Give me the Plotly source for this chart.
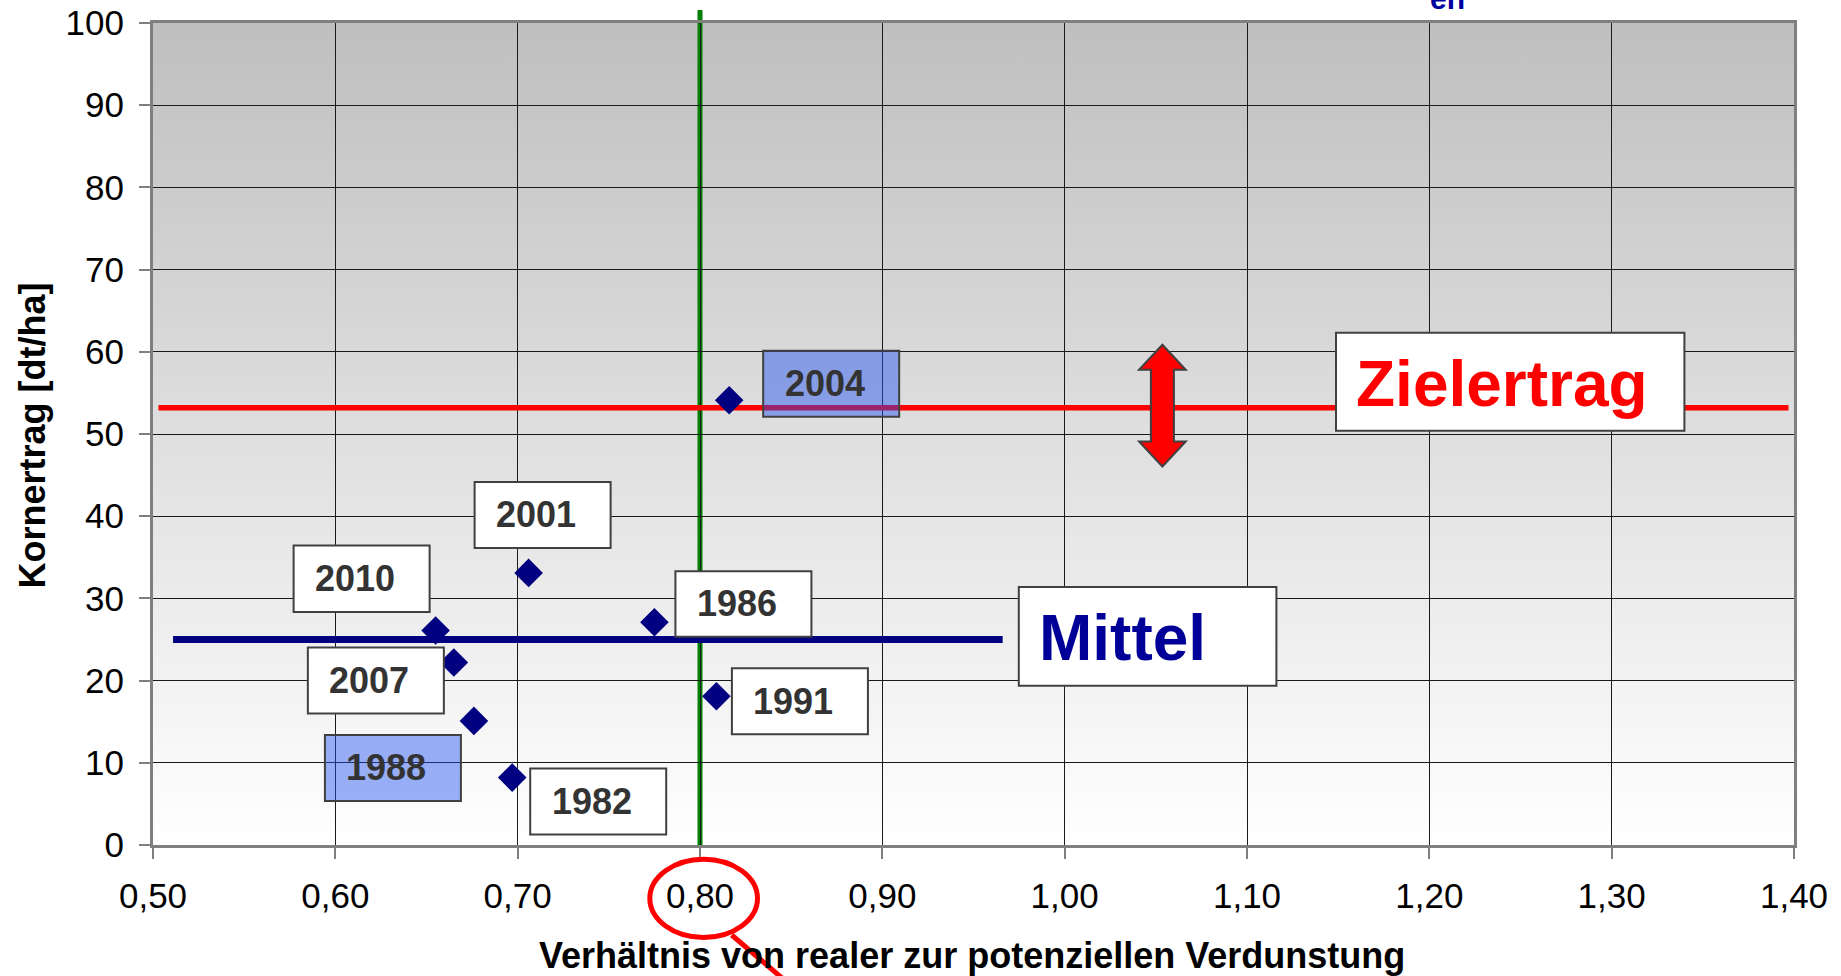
import base64
import plotly.graph_objects as go

# ---------------- data ----------------
years = ["1982", "1986", "1988", "1991", "2001", "2004", "2007", "2010"]
ratio = [0.697, 0.775, 0.676, 0.809, 0.706, 0.816, 0.665, 0.655]
yield_dt = [8.2, 27.1, 15.1, 18.1, 33.1, 54.1, 22.2, 26.1]
highlighted = ["1988", "2004"]

mittel_x = [0.511, 0.966]
mittel_y = [25, 25]
ziel_x = [0.503, 1.397]
ziel_y = [53.2, 53.2]
ref_ratio = 0.80

x_ticks = [0.50, 0.60, 0.70, 0.80, 0.90, 1.00, 1.10, 1.20, 1.30, 1.40]
y_ticks = [0, 10, 20, 30, 40, 50, 60, 70, 80, 90, 100]

x_title = "Verhältnis von realer zur potenziellen Verdunstung"
y_title = "Kornertrag [dt/ha]"

# ---------------- layout geometry / styles ----------------
W, H = 1841, 976
L, R, T, B = 153, 47, 23, 131
FONT = "Liberation Sans, Arial, sans-serif"

# label box offsets in pixels relative to each point (x0, x1, y0, y1), y up
label_box = {
    "2001": (-54, 82, 25, 91),
    "2010": (-142, -6, 18.5, 85),
    "2007": (-146, -10, -51, 15),
    "1988": (-149, -13, -80, -14),
    "1982": (18, 154, -57, 9),
    "1986": (21, 157, -14.5, 51),
    "1991": (15.5, 151.5, -38, 28),
    "2004": (34, 170, -16.5, 49.5),
}


def pxx(px):
    return (px - L) / (W - L - R)


def pxy(py):
    return (H - B - py) / (H - T - B)


fig = go.Figure()

fig.add_trace(go.Scatter(x=mittel_x, y=mittel_y, mode="lines",
                         line=dict(color="#000080", width=7),
                         hoverinfo="skip", showlegend=False))
fig.add_trace(go.Scatter(x=ziel_x, y=ziel_y, mode="lines",
                         line=dict(color="#FF0000", width=5.5),
                         hoverinfo="skip", showlegend=False))
fig.add_trace(go.Scatter(x=ratio, y=yield_dt, mode="markers", text=years,
                         marker=dict(symbol="diamond", size=22, color="#000080",
                                     line=dict(width=0)),
                         cliponaxis=False, showlegend=False))

shapes = []
annotations = []

# green reference line (extends a little above the plot)
shapes.append(dict(type="line", xref="x", yref="paper", x0=ref_ratio, x1=ref_ratio,
                   y0=0, y1=pxy(10), line=dict(color="#008000", width=5), layer="between"))

# label boxes
for yr, xv, yv in zip(years, ratio, yield_dt):
    x0, x1, y0, y1 = label_box[yr]
    fill = "rgba(30,80,240,0.45)" if yr in highlighted else "#FFFFFF"
    shapes.append(dict(type="rect", xref="x", yref="y", xsizemode="pixel", ysizemode="pixel",
                       xanchor=xv, yanchor=yv, x0=x0, x1=x1, y0=y0, y1=y1,
                       fillcolor=fill, line=dict(color="#404040", width=2), layer="above"))
    annotations.append(dict(x=xv, y=yv, xref="x", yref="y", text="<b>%s</b>" % yr,
                            showarrow=False, xanchor="left", yanchor="middle",
                            xshift=x0 + 19.5, yshift=(y0 + y1) / 2,
                            font=dict(family=FONT, size=36, color="#333333")))

# double-headed arrow
arrow_path = ("M 0,60.85 L 23.35,35.85 L 11.5,35.85 L 11.5,-35.85 L 23.35,-35.85 "
              "L 0,-60.85 L -23.35,-35.85 L -11.5,-35.85 L -11.5,35.85 L -23.35,35.85 Z")
shapes.append(dict(type="path", xref="x", yref="y", xsizemode="pixel", ysizemode="pixel",
                   xanchor=1.0536, yanchor=53.46, path=arrow_path,
                   fillcolor="#FF0000", line=dict(color="#404040", width=2), layer="above"))

# Zielertrag box
shapes.append(dict(type="rect", xref="paper", yref="paper",
                   x0=pxx(1336), x1=pxx(1684.4), y0=pxy(430.7), y1=pxy(332.7),
                   fillcolor="#FFFFFF", line=dict(color="#404040", width=2), layer="above"))
annotations.append(dict(x=pxx(1353.5), y=pxy(383.8), xref="paper", yref="paper",
                        text="<b>Zielertrag</b>", showarrow=False, xanchor="left", yanchor="middle",
                        font=dict(family=FONT, size=64, color="#FF0000")))

# Mittel box
shapes.append(dict(type="rect", xref="paper", yref="paper",
                   x0=pxx(1018.8), x1=pxx(1276.4), y0=pxy(685.8), y1=pxy(586.9),
                   fillcolor="#FFFFFF", line=dict(color="#404040", width=2), layer="above"))
annotations.append(dict(x=pxx(1036.5), y=pxy(638.2), xref="paper", yref="paper",
                        text="<b>Mittel</b>", showarrow=False, xanchor="left", yanchor="middle",
                        font=dict(family=FONT, size=64, color="#000099")))

# red circle around 0,80 and its pointer line
shapes.append(dict(type="circle", xref="paper", yref="paper",
                   x0=pxx(649.8), x1=pxx(757.5), y0=pxy(937.5), y1=pxy(859.2),
                   line=dict(color="#FF0000", width=5)))
shapes.append(dict(type="line", xref="paper", yref="paper",
                   x0=pxx(731.7), y0=pxy(935), x1=pxx(782), y1=pxy(978),
                   line=dict(color="#FF0000", width=5)))

# axis titles
annotations.append(dict(x=pxx(972), y=pxy(955.4), xref="paper", yref="paper",
                        text="<b>%s</b>" % x_title, showarrow=False,
                        xanchor="center", yanchor="middle",
                        font=dict(family=FONT, size=36, color="#000000")))
annotations.append(dict(x=pxx(32), y=pxy(435.5), xref="paper", yref="paper",
                        text="<b>%s</b>" % y_title, showarrow=False, textangle=-90,
                        xanchor="center", yanchor="middle",
                        font=dict(family=FONT, size=36, color="#000000")))

# cut-off title fragment at the top
annotations.append(dict(x=pxx(1447), y=pxy(17), xref="paper", yref="paper",
                        text="<b>en</b>", showarrow=False, xanchor="center", yanchor="bottom",
                        font=dict(family=FONT, size=30, color="#0000A0")))

# gradient background
svg = ('<svg xmlns="http://www.w3.org/2000/svg" width="100" height="100" viewBox="0 0 100 100" '
       'preserveAspectRatio="none"><defs><linearGradient id="g" x1="0" y1="0" x2="0" y2="1">'
       '<stop offset="0" stop-color="#bfbfbf"/><stop offset="1" stop-color="#ffffff"/>'
       '</linearGradient></defs><rect x="0" y="0" width="100" height="100" fill="url(#g)"/></svg>')
bg_src = "data:image/svg+xml;base64," + base64.b64encode(svg.encode()).decode()

axis_common = dict(showgrid=True, gridcolor="#1a1a1a", gridwidth=1, zeroline=False,
                   showline=True, mirror=True, linecolor="#7f7f7f", linewidth=3,
                   ticks="outside", ticklen=11, tickwidth=2, tickcolor="#7f7f7f",
                   automargin=False,
                   tickfont=dict(family=FONT, size=35, color="#000000"))

fig.update_layout(
    width=W, height=H,
    margin=dict(l=L, r=R, t=T, b=B, pad=0, autoexpand=False),
    paper_bgcolor="#FFFFFF",
    plot_bgcolor="rgba(0,0,0,0)",
    separators=",.",
    font=dict(family=FONT, color="#000000"),
    showlegend=False,
    shapes=shapes,
    annotations=annotations,
    images=[dict(source=bg_src, xref="paper", yref="paper", x=0, y=1, sizex=1, sizey=1,
                 xanchor="left", yanchor="top", sizing="stretch", layer="below")],
    xaxis=dict(range=[0.5, 1.4], tickvals=x_ticks, tickformat=".2f",
               ticklabelstandoff=7, **axis_common),
    yaxis=dict(range=[0, 100], tickvals=y_ticks, ticklabelstandoff=8, **axis_common),
)

fig.write_html("out.html", config={"displayModeBar": False},
               post_script="document.body.style.margin='0';document.body.style.padding='0';"
                           "document.documentElement.style.overflow='hidden';")
